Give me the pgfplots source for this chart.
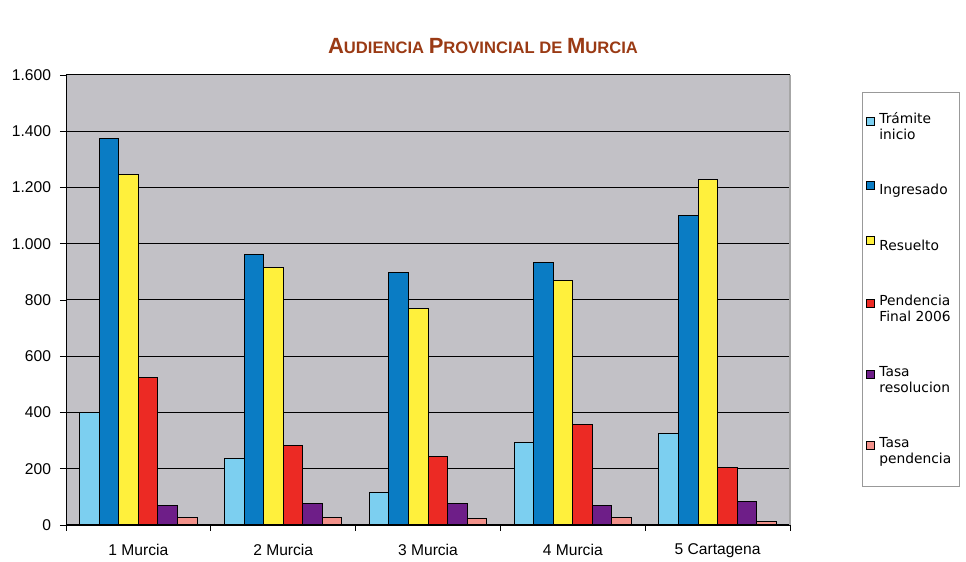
\documentclass[border=0pt]{standalone}
\usepackage{fontspec}
\setmainfont{Liberation Sans}
\newfontfamily\legfont{DejaVu Sans}
\usepackage{pgfplots}
\pgfplotsset{compat=1.18}
\definecolor{plotbg}{HTML}{C2C1C6}
\definecolor{ctram}{HTML}{7CCFF0}
\definecolor{cingr}{HTML}{0A7CC4}
\definecolor{cresu}{HTML}{FFF03C}
\definecolor{cpend}{HTML}{EC2A24}
\definecolor{ctres}{HTML}{6E1E88}
\definecolor{ctpen}{HTML}{F2918A}
\definecolor{ctitle}{HTML}{9A3A14}
\begin{document}
\begin{tikzpicture}
\path[use as bounding box] (0,0) rectangle (483pt,281pt);
\node[text=ctitle, font=\bfseries] at (241.5pt,258pt)
  {{\fontsize{11}{12}\selectfont A}{\fontsize{8.3}{10}\selectfont UDIENCIA }{\fontsize{11}{12}\selectfont P}{\fontsize{8.3}{10}\selectfont ROVINCIAL DE }{\fontsize{11}{12}\selectfont M}{\fontsize{8.3}{10}\selectfont URCIA}};
\begin{axis}[
  at={(33pt,18.5pt)}, anchor=south west,
  scale only axis,
  width=362pt, height=225pt,
  ybar=0pt,
  bar width=0.135,
  xmin=-0.5, xmax=4.5,
  ymin=0, ymax=1600,
  ytick={0,200,...,1600},
  xtick={-0.5,0.5,1.5,2.5,3.5,4.5},
  xticklabels={},
  extra x ticks={0,1,2,3,4},
  extra x tick labels={1 Murcia,2 Murcia,3 Murcia,4 Murcia,5 Cartagena},
  extra x tick style={major tick length=0pt, grid=none},
  tick align=outside,
  major tick length=3pt,
  ymajorgrids,
  grid style={black, line width=0.5pt},
  axis background/.style={fill=plotbg},
  axis x line*=bottom,
  axis y line*=left,
  axis line style={draw=black},
  every tick/.style={black},
  tick label style={font=\fontsize{7.8}{9}\selectfont},
  /pgf/number format/.cd, 1000 sep={.}, assume math mode=true,
  /pgfplots/.cd,
  yticklabel style={xshift=-1pt},
  xticklabel style={yshift=-6pt},
  clip=false,
  area legend,
  legend cell align=left,
  legend style={
    at={(1,1)}, anchor=north west, xshift=36pt, yshift=-8.5pt,
    draw=gray!80, fill=white,
    font=\legfont\fontsize{6.9}{8.2}\selectfont,
    cells={align=left},
    row sep=16.8pt,
    inner ysep=8pt, inner xsep=2pt,
  },
  legend image code/.code={\draw[#1, draw=black] (0pt,1pt) rectangle (4pt,5pt);},
  every axis plot/.append style={draw=black, line width=0.5pt},
]
\addplot[fill=ctram] coordinates {(0,400) (1,235) (2,114) (3,295) (4,327)};
\addplot[fill=cingr] coordinates {(0,1374) (1,960) (2,896) (3,932) (4,1102)};
\addplot[fill=cresu] coordinates {(0,1245) (1,914) (2,768) (3,868) (4,1230)};
\addplot[fill=cpend] coordinates {(0,523) (1,281) (2,242) (3,356) (4,203)};
\addplot[fill=ctres] coordinates {(0,68) (1,75) (2,75) (3,68) (4,85)};
\addplot[fill=ctpen] coordinates {(0,28) (1,25) (2,24) (3,28) (4,14)};
\legend{Trámite\\inicio, Ingresado, Resuelto, Pendencia\\Final 2006, Tasa\\resolucion, Tasa\\pendencia}
\draw[gray!70, line width=0.6pt] (rel axis cs:1,0) -- (rel axis cs:1,1);
\end{axis}
\end{tikzpicture}
\end{document}
